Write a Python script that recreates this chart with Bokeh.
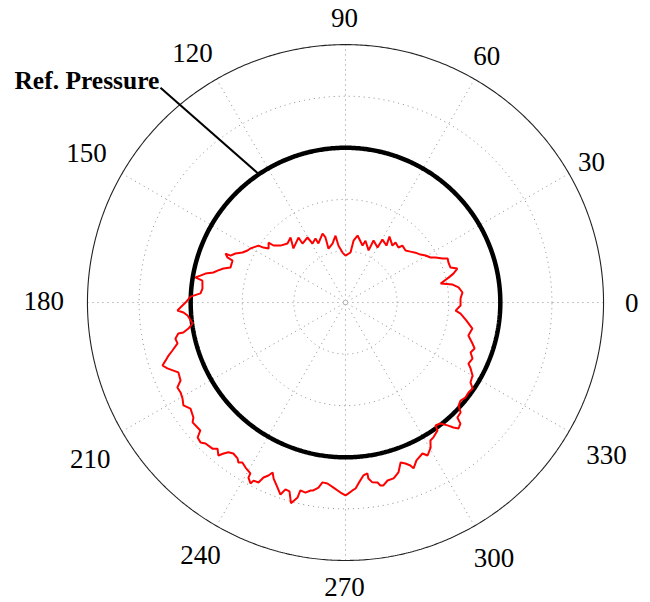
import numpy as np
from bokeh.plotting import figure
from bokeh.models import Range1d
from bokeh.core.properties import value
from bokeh.embed import file_html
from bokeh.resources import INLINE

# Measured pressure trace: angle in degrees, pressure normalised to the outer ring
angle_deg = [
    2.0, 4.9, 7.6, 9.5, 11.3, 13.6, 15.0, 16.9, 18.4, 21.2,
    23.3, 24.4, 26.6, 27.9, 30.4, 32.6, 35.5, 38.1, 40.9, 45.0,
    46.1, 50.2, 50.5, 56.3, 54.3, 59.6, 59.8, 65.7, 66.1, 72.1,
    73.4, 79.8, 82.6, 84.3, 90.0, 93.4, 97.0, 98.5, 102.4, 107.5,
    107.1, 108.4, 114.6, 115.1, 119.2, 120.3, 126.1, 125.9, 133.9, 130.2,
    134.5, 138.8, 141.6, 142.1, 144.9, 146.2, 146.8, 149.1, 150.4, 152.0,
    154.1, 156.0, 157.8, 157.8, 159.1, 159.6, 163.1, 164.4, 166.0, 167.2,
    168.3, 169.5, 170.5, 171.3, 174.4, 176.4, 177.8, 180.0, 181.7, 182.7,
    183.5, 184.7, 187.8, 189.4, 190.5, 190.5, 192.0, 193.7, 195.5, 196.7,
    197.9, 199.0, 200.3, 201.6, 202.7, 205.3, 206.8, 208.6, 210.5, 212.4,
    214.4, 217.1, 218.1, 220.2, 221.4, 222.4, 224.0, 225.2, 227.7, 228.8,
    230.3, 231.1, 232.0, 233.4, 235.3, 236.2, 237.2, 238.8, 240.9, 241.0,
    242.3, 242.7, 244.2, 244.9, 246.0, 246.8, 247.8, 249.8, 251.3, 252.2,
    253.5, 254.8, 256.2, 256.5, 258.1, 259.5, 260.3, 261.7, 262.7, 264.3,
    266.3, 268.5, 270.0, 270.9, 272.1, 273.1, 274.1, 275.9, 277.3, 277.4,
    278.5, 280.1, 280.8, 281.7, 283.3, 285.3, 287.3, 289.0, 290.4, 291.7,
    292.3, 294.2, 297.0, 298.2, 300.4, 301.6, 303.1, 305.7, 306.2, 308.1,
    309.7, 310.8, 311.9, 313.5, 314.2, 316.3, 317.7, 319.6, 321.6, 323.8,
    325.9, 327.4, 330.1, 332.2, 333.6, 336.2, 338.2, 340.4, 342.1, 345.0,
    348.4, 351.5, 354.5, 355.8, 358.5,
]
pressure = [
    0.446, 0.455, 0.442, 0.421, 0.376, 0.411, 0.433, 0.453, 0.429, 0.428,
    0.431, 0.413, 0.390, 0.373, 0.360, 0.345, 0.333, 0.320, 0.308, 0.312,
    0.296, 0.303, 0.286, 0.307, 0.272, 0.283, 0.247, 0.264, 0.221, 0.252,
    0.231, 0.264, 0.242, 0.195, 0.182, 0.194, 0.222, 0.262, 0.234, 0.219,
    0.264, 0.282, 0.252, 0.274, 0.262, 0.292, 0.283, 0.311, 0.291, 0.330,
    0.321, 0.335, 0.356, 0.378, 0.364, 0.383, 0.403, 0.416, 0.424, 0.430,
    0.444, 0.467, 0.481, 0.502, 0.490, 0.467, 0.466, 0.491, 0.511, 0.525,
    0.554, 0.572, 0.590, 0.561, 0.557, 0.563, 0.601, 0.620, 0.640, 0.652,
    0.629, 0.614, 0.598, 0.617, 0.639, 0.659, 0.674, 0.670, 0.696, 0.716,
    0.733, 0.750, 0.736, 0.717, 0.702, 0.707, 0.730, 0.728, 0.733, 0.744,
    0.728, 0.739, 0.753, 0.751, 0.750, 0.776, 0.781, 0.770, 0.766, 0.753,
    0.771, 0.752, 0.737, 0.729, 0.735, 0.746, 0.738, 0.748, 0.758, 0.776,
    0.792, 0.777, 0.775, 0.749, 0.734, 0.717, 0.737, 0.764, 0.786, 0.761,
    0.764, 0.806, 0.778, 0.749, 0.753, 0.741, 0.739, 0.725, 0.703, 0.705,
    0.719, 0.737, 0.748, 0.740, 0.729, 0.722, 0.703, 0.674, 0.668, 0.688,
    0.705, 0.709, 0.722, 0.724, 0.709, 0.707, 0.690, 0.656, 0.666, 0.680,
    0.695, 0.671, 0.657, 0.673, 0.652, 0.628, 0.624, 0.611, 0.591, 0.596,
    0.619, 0.640, 0.656, 0.647, 0.622, 0.617, 0.593, 0.586, 0.593, 0.591,
    0.595, 0.575, 0.568, 0.548, 0.532, 0.538, 0.522, 0.531, 0.517, 0.493,
    0.502, 0.474, 0.448, 0.428, 0.446,
]

ref_pressure = 0.6
ring_levels = [0.2, 0.4, 0.6, 0.8]
r_max = 1.0
spoke_angles = [0, 30, 60, 90, 120, 150]
tick_angles = [0, 30, 60, 90, 120, 150, 180, 210, 240, 270, 300, 330]
tick_labels = [str(a) for a in tick_angles]
callout_text = "Ref. Pressure"
callout_angle = 124.0

# label placement: radius (fraction of r_max) and small angular nudge (deg)
label_radius = [1.109, 1.099, 1.101, 1.103, 1.134, 1.159,
                1.169, 1.161, 1.130, 1.101, 1.145, 1.171]
label_nudge = [0.0, -0.2, 0.2, 0.2, 1.5, 0.0,
               -0.2, 1.6, 0.2, -0.2, 0.2, -0.3]

SERIF = value("Liberation Serif")

p = figure(width=650, height=602,
           x_range=Range1d(-1.337, 1.182), y_range=Range1d(-1.163, 1.171),
           x_axis_type=None, y_axis_type=None,
           output_backend="svg", toolbar_location=None, min_border=0)
p.grid.visible = False
p.outline_line_color = None
p.background_fill_color = "white"
p.border_fill_color = "white"

t = np.linspace(0, 2 * np.pi, 721)

# dotted range rings
for lev in ring_levels:
    p.line(lev * np.cos(t), lev * np.sin(t), line_color="#8c8c8c",
           line_width=1, line_dash="1 4")

# dotted spokes
for a in spoke_angles:
    ar = np.deg2rad(a)
    p.line([-r_max * np.cos(ar), r_max * np.cos(ar)],
           [-r_max * np.sin(ar), r_max * np.sin(ar)],
           line_color="#8c8c8c", line_width=1, line_dash="1 4")

# outer ring
p.line(r_max * np.cos(t), r_max * np.sin(t), line_color="#222222", line_width=1.1)

# angle labels
ta = np.deg2rad(np.array(tick_angles, dtype=float) + np.array(label_nudge))
lr = np.array(label_radius) * r_max
p.text(x=lr * np.cos(ta), y=lr * np.sin(ta), text=tick_labels,
       text_font=SERIF, text_font_size="27px", text_color="black",
       text_align="center", text_baseline="middle")

# reference pressure circle
p.line(ref_pressure * np.cos(t), ref_pressure * np.sin(t),
       line_color="black", line_width=4.5)

# measured pressure trace (closed loop)
th = np.deg2rad(np.append(angle_deg, angle_deg[0]))
rr = np.append(pressure, pressure[0])
p.line(rr * np.cos(th), rr * np.sin(th), line_color="#ff0000", line_width=2)

# callout for the reference circle
ca = np.deg2rad(callout_angle)
p.line([-0.717, ref_pressure * np.cos(ca)], [0.833, ref_pressure * np.sin(ca)],
       line_color="black", line_width=2)
p.text(x=[-1.283], y=[0.860], text=[callout_text], text_font=SERIF,
       text_font_style="bold", text_font_size="25.5px", text_color="black",
       text_align="left", text_baseline="alphabetic")

open("out.html", "w").write(file_html(p, INLINE))
